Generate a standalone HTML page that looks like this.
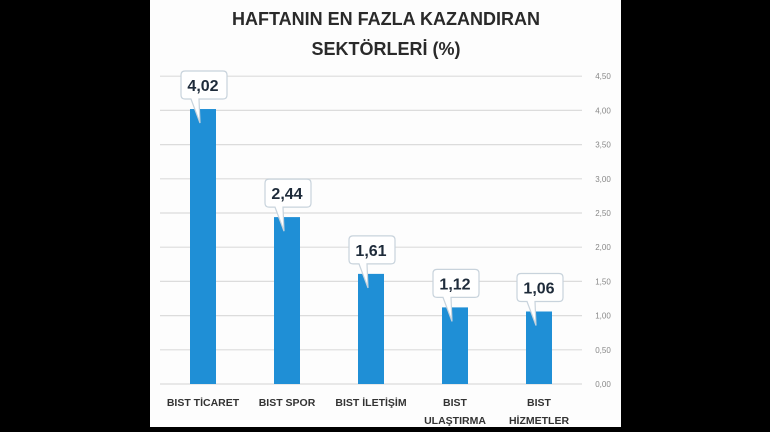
<!DOCTYPE html>
<html><head><meta charset="utf-8"><style>
body{margin:0;background:#000;width:770px;height:432px;overflow:hidden}
svg{display:block}
text{font-family:"Liberation Sans",sans-serif}
</style></head><body>
<svg width="770" height="432">
<rect x="0" y="0" width="770" height="432" fill="#000"/>
<rect x="150" y="0" width="471" height="427" fill="#fdfdfd"/>
<text x="386" y="25" text-anchor="middle" font-size="18" font-weight="bold" fill="#2a2a2a">HAFTANIN EN FAZLA KAZANDIRAN</text>
<text x="386" y="55" text-anchor="middle" font-size="18" font-weight="bold" fill="#2a2a2a">SEKTÖRLERİ (%)</text>
<g id="grid"></g><g id="bars"></g><g id="labels"></g>
</svg>
<script>
const categories=[["BIST TİCARET"],["BIST SPOR"],["BIST İLETİŞİM"],["BIST","ULAŞTIRMA"],["BIST","HİZMETLER"]];
const values=[4.02,2.44,1.61,1.12,1.06];
const valueLabels=["4,02","2,44","1,61","1,12","1,06"];
const ticks=[0,0.5,1,1.5,2,2.5,3,3.5,4,4.5];
const tickLabels=["0,00","0,50","1,00","1,50","2,00","2,50","3,00","3,50","4,00","4,50"];
const NS="http://www.w3.org/2000/svg";
const y=v=>384-v*68.4;
const x=i=>203+i*84;
function mk(t,a,p){const e=document.createElementNS(NS,t);for(const k in a)e.setAttribute(k,a[k]);p.appendChild(e);return e;}
const g=document.getElementById('grid'),b=document.getElementById('bars'),l=document.getElementById('labels');
ticks.forEach((t,i)=>{
 const ln=mk('line',{x1:160,x2:582,y1:y(t),y2:y(t),stroke:'#dcdcdc','stroke-width':1.2},g);
 
 
 const tx=mk('text',{x:603,y:y(t)+3,'text-anchor':'middle','font-size':8,fill:'#888'},g);
 tx.textContent=tickLabels[i];
 
 
});
values.forEach((v,i)=>{
 const cx=x(i),top=y(v);
 const r=mk('rect',{x:cx-13,y:top,width:26,height:384-top,fill:'#1f8fd6'},b);
 
 
 const bx=cx-22,by=top-38,bw=46,bh=28;
 const c=mk('path',{d:`M${bx+4},${by} h${bw-8} q4,0 4,4 v${bh-8} q0,4 -4,4 H${cx-4} L${cx-3},${top+14} L${cx-12},${by+bh} H${bx+4} q-4,0 -4,-4 v${-(bh-8)} q0,-4 4,-4 Z`,fill:'#fff',stroke:'#c8d3dc','stroke-width':1.2},b);
 
 
 const t=mk('text',{x:cx,y:by+20,'text-anchor':'middle','font-size':16,'font-weight':'bold',fill:'#1e2b3a'},b);
 t.textContent=valueLabels[i];
 
 
 categories[i].forEach((s,j)=>{
  const ct=mk('text',{x:cx,y:406+j*18,'text-anchor':'middle','font-size':10.5,'font-weight':'bold',fill:'#333'},l);
  ct.textContent=s;
  
  
 });
});
</script>
</body></html>
